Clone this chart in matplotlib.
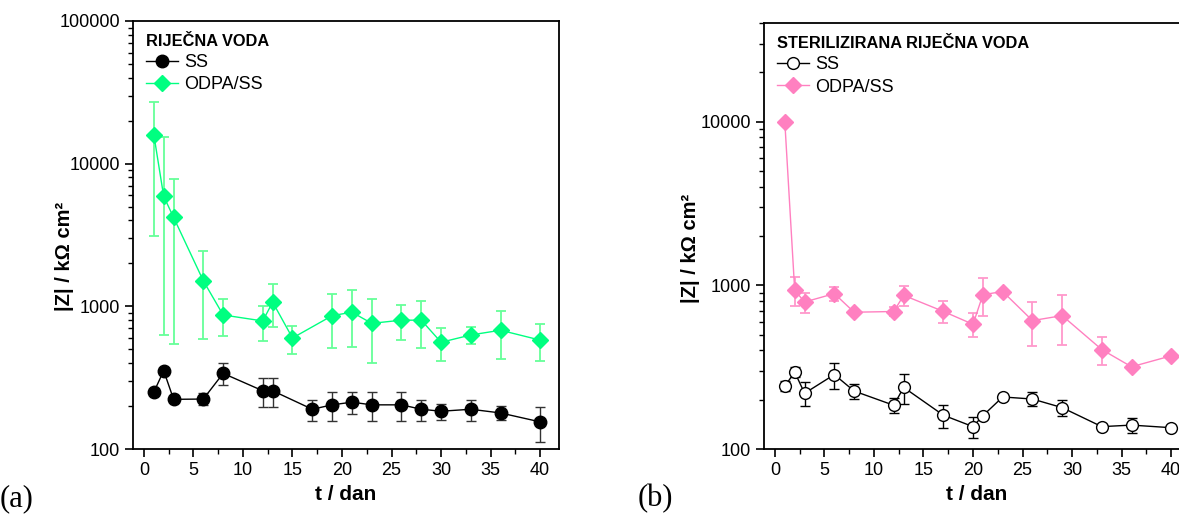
import matplotlib
matplotlib.use("Agg")
import matplotlib.pyplot as plt
from matplotlib.ticker import FixedLocator, NullFormatter, LogLocator, MultipleLocator

plt.rcParams['font.family'] = ['Liberation Sans', 'DejaVu Sans']

# (a) river water
days_a_ss = [1, 2, 3, 6, 8, 12, 13, 17, 19, 21, 23, 26, 28, 30, 33, 36, 40]
z_a_ss = [250, 354, 223, 224, 339, 256, 256, 190, 204, 213, 204, 204, 190, 184, 190, 179, 155]
err_a_ss = [0, 0, 0, 22, 60, 58, 58, 32, 46, 37, 46, 46, 32, 24, 32, 20, 43]

days_a_odpa = [1, 2, 3, 6, 8, 12, 13, 15, 19, 21, 23, 26, 28, 30, 33, 36, 40]
z_a_odpa = [16000, 5900, 4200, 1510, 870, 790, 1070, 600, 860, 910, 760, 800, 800, 560, 630, 680, 580]
err_a_odpa_lo = [12900, 5270, 3655, 917, 251, 215, 357, 133, 353, 388, 360, 222, 293, 143, 87, 250, 168]
err_a_odpa_hi = [11150, 9540, 3560, 920, 250, 215, 357, 133, 353, 388, 360, 222, 293, 143, 87, 250, 168]

# (b) sterilised river water
days_b = [1, 2, 3, 6, 8, 12, 13, 17, 20, 21, 23, 26, 29, 33, 36, 40]
z_b_ss = [242, 295, 219, 285, 226, 185, 238, 161, 137, 160, 208, 202, 179, 137, 140, 135]
err_b_ss = [17, 20, 36, 51, 24, 20, 50, 26, 20, 0, 8, 20, 20, 5, 14, 0]
z_b_odpa = [10000, 933, 791, 890, 685, 692, 869, 693, 578, 877, 916, 609, 653, 405, 318, 371]
err_b_odpa = [0, 185, 110, 88, 0, 45, 117, 107, 96, 225, 0, 185, 221, 80, 0, 0]

green = '#00FF80'
green_err = '#66FF99'
pink = '#FF80C0'
pink_err = '#FF99CC'

fig = plt.figure(figsize=(11.79, 5.22), dpi=100)
ax1 = fig.add_axes([0.1128, 0.1398, 0.3613, 0.8200])
ax2 = fig.add_axes([0.6480, 0.1398, 0.3613, 0.8160])


def style_axis(ax, ymax, yticks):
    ax.set_yscale('log')
    ax.set_xlim(-1.1, 41.9)
    ax.set_ylim(100, ymax)
    ax.xaxis.set_major_locator(MultipleLocator(5))
    ax.xaxis.set_minor_locator(MultipleLocator(2.5))
    ax.yaxis.set_major_locator(FixedLocator(yticks))
    ax.yaxis.set_major_formatter(plt.FuncFormatter(lambda v, p: '%d' % v))
    ax.yaxis.set_minor_locator(LogLocator(base=10, subs=range(2, 10)))
    ax.yaxis.set_minor_formatter(NullFormatter())
    ax.tick_params(which='major', direction='out', length=6, width=1.2, labelsize=13,
                   top=False, right=False)
    ax.tick_params(which='minor', direction='out', length=3.5, width=1.0,
                   top=False, right=False)
    for s in ax.spines.values():
        s.set_linewidth(1.3)
    ax.set_xlabel('t / dan', fontsize=15, fontweight='bold', labelpad=4)
    ax.set_ylabel('|Z| / kΩ cm²', fontsize=14.5, fontweight='bold')


style_axis(ax1, 100000, [100, 1000, 10000, 100000])
style_axis(ax2, 40000, [100, 1000, 10000])

# panel (a)
ss_a = ax1.errorbar(days_a_ss, z_a_ss, yerr=err_a_ss, color='black', ecolor='#333333',
                    elinewidth=1.0, capsize=3.5, capthick=1.0, lw=1.0, marker='o', ms=9,
                    mfc='black', mec='black', label='SS', zorder=3)
od_a = ax1.errorbar(days_a_odpa, z_a_odpa, yerr=[err_a_odpa_lo, err_a_odpa_hi], color=green,
                    ecolor=green_err, elinewidth=1.3, capsize=3.5, capthick=1.3, lw=1.0,
                    marker='D', ms=8.5, mfc=green, mec=green, label='ODPA/SS', zorder=3)

# panel (b)
ss_b = ax2.errorbar(days_b, z_b_ss, yerr=err_b_ss, color='black', ecolor='black',
                    elinewidth=1.0, capsize=3.5, capthick=1.0, lw=1.0, marker='o', ms=8.5,
                    mfc='white', mec='black', mew=1.0, label='SS', zorder=3)
od_b = ax2.errorbar(days_b, z_b_odpa, yerr=err_b_odpa, color=pink, ecolor=pink_err,
                    elinewidth=1.3, capsize=3.5, capthick=1.3, lw=1.0, marker='D', ms=8.5,
                    mfc=pink, mec=pink, label='ODPA/SS', zorder=3)

for ax, title, hs in [(ax1, 'RIJEČNA VODA', [ss_a, od_a]),
                      (ax2, 'STERILIZIRANA RIJEČNA VODA', [ss_b, od_b])]:
    ax.legend(handles=[h[0] for h in hs], labels=['SS', 'ODPA/SS'], loc='upper left',
              title=title, frameon=False, fontsize=13,
              title_fontproperties={'weight': 'bold', 'size': 11.8},
              alignment='left', handlelength=1.8, handletextpad=0.35,
              labelspacing=0.3, borderaxespad=0.2, borderpad=0.5)

ax1.yaxis.set_label_coords(-0.138, 0.45)
ax2.yaxis.set_label_coords(-0.150, 0.47)

fig.text(0.0, 0.03, '(a)', fontsize=22, family='Liberation Serif')
fig.text(0.541, 0.03, '(b)', fontsize=22, family='Liberation Serif')

fig.savefig('out.png', dpi=100)
